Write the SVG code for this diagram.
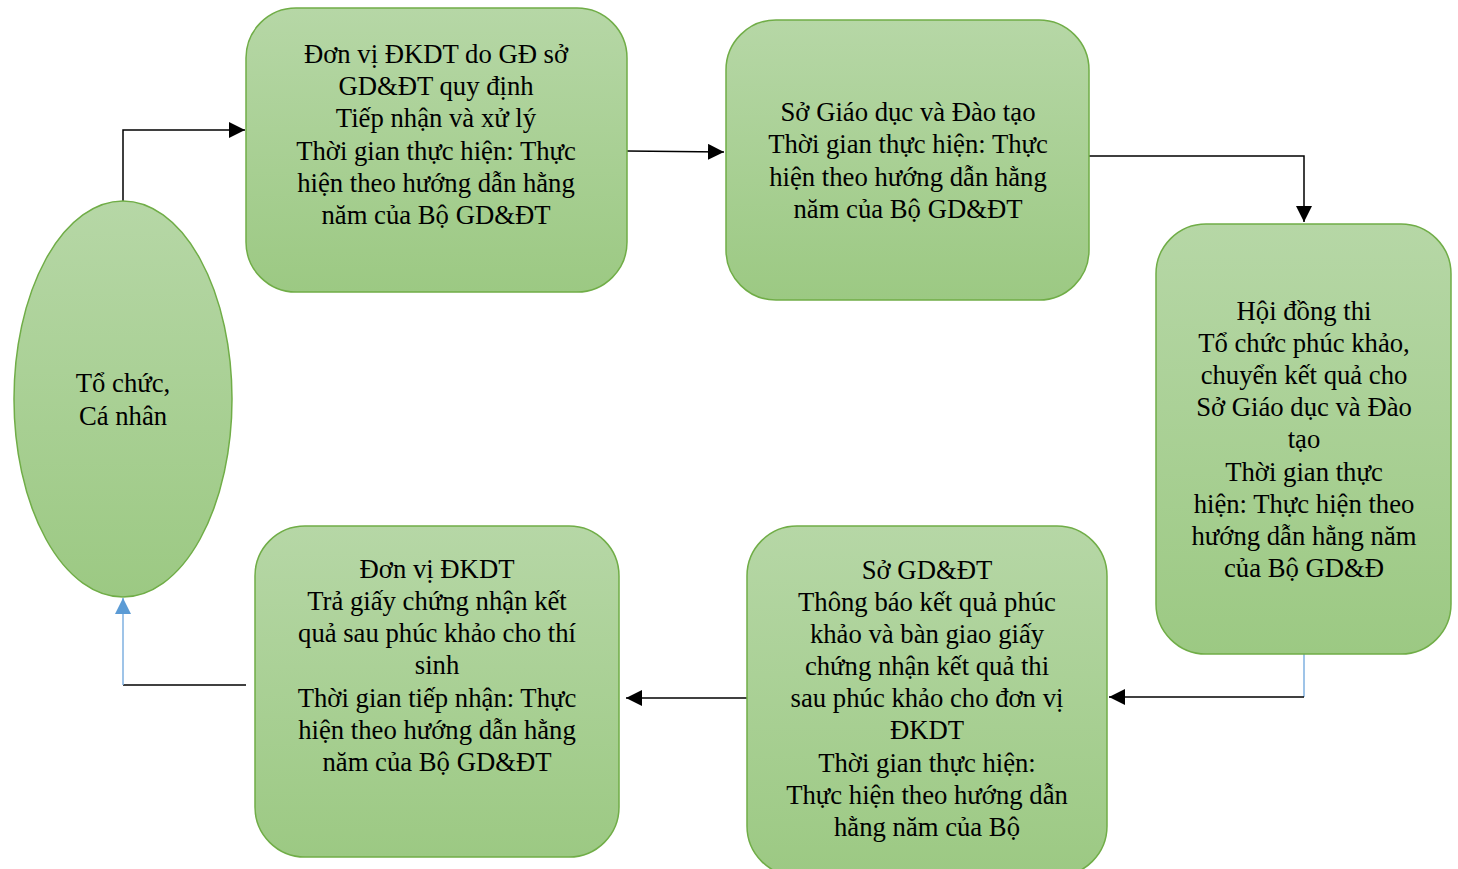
<svg xmlns="http://www.w3.org/2000/svg" width="1458" height="869" viewBox="0 0 1458 869">
<defs>
<linearGradient id="g" x1="0" y1="0" x2="0" y2="1">
<stop offset="0" stop-color="#b6d7a6"/>
<stop offset="1" stop-color="#9cc983"/>
</linearGradient>
<marker id="a" viewBox="0 0 10 10" refX="10" refY="5" markerWidth="16" markerHeight="16" markerUnits="userSpaceOnUse" orient="auto">
<path d="M0,0 L10,5 L0,10 z" fill="#000"/>
</marker>
<marker id="abl" viewBox="0 0 10 10" refX="10" refY="5" markerWidth="16" markerHeight="16" markerUnits="userSpaceOnUse" orient="auto">
<path d="M0,0 L10,5 L0,10 z" fill="#5b9bd5"/>
</marker>
</defs>
<style>
.n{fill:url(#g);stroke:#70ad47;stroke-width:1.5}
.t{font-family:"Liberation Serif","Times New Roman",serif;font-size:26.7px;fill:#000;text-anchor:middle}
.c{fill:none;stroke:#000;stroke-width:1.5}
.b{fill:none;stroke:#7fb0e0;stroke-width:1.5}
</style>
<rect width="1458" height="869" fill="#fff"/>
<g id="connectors">
<path class="c" d="M123,201 V130 H245" marker-end="url(#a)"/>
<path class="c" d="M627,151 L724,152" marker-end="url(#a)"/>
<path class="c" d="M1089,156 H1304 V222" marker-end="url(#a)"/>
<path class="b" d="M1304,654 V697"/>
<path class="c" d="M1304,697 H1109" marker-end="url(#a)"/>
<path class="c" d="M747,698 H626" marker-end="url(#a)"/>
<path class="c" d="M246,685 H123"/>
<path class="b" d="M123,685 V598" marker-end="url(#abl)"/>
</g>
<g id="n0">
<ellipse class="n" cx="123" cy="399" rx="109" ry="198"/>
<text class="t" x="123" y="392">Tổ chức,</text>
<text class="t" x="123" y="425">Cá nhân</text>
</g>
<g id="n1">
<rect class="n" x="246" y="8" width="381" height="284" rx="50"/>
<text class="t" x="436" y="63">Đơn vị ĐKDT do GĐ sở</text>
<text class="t" x="436" y="95">GD&amp;ĐT quy định</text>
<text class="t" x="436" y="127">Tiếp nhận và xử lý</text>
<text class="t" x="436" y="160">Thời gian thực hiện: Thực</text>
<text class="t" x="436" y="192">hiện theo hướng dẫn hằng</text>
<text class="t" x="436" y="224">năm của Bộ GD&amp;ĐT</text>
</g>
<g id="n2">
<rect class="n" x="726" y="20" width="363" height="280" rx="50"/>
<text class="t" x="908" y="121">Sở Giáo dục và Đào tạo</text>
<text class="t" x="908" y="153">Thời gian thực hiện: Thực</text>
<text class="t" x="908" y="186">hiện theo hướng dẫn hằng</text>
<text class="t" x="908" y="218">năm của Bộ GD&amp;ĐT</text>
</g>
<g id="n3">
<rect class="n" x="1156" y="224" width="295" height="430" rx="50"/>
<text class="t" x="1304" y="320">Hội đồng thi</text>
<text class="t" x="1304" y="352">Tổ chức phúc khảo,</text>
<text class="t" x="1304" y="384">chuyển kết quả cho</text>
<text class="t" x="1304" y="416">Sở Giáo dục và Đào</text>
<text class="t" x="1304" y="448">tạo</text>
<text class="t" x="1304" y="481">Thời gian thực</text>
<text class="t" x="1304" y="513">hiện: Thực hiện theo</text>
<text class="t" x="1304" y="545">hướng dẫn hằng năm</text>
<text class="t" x="1304" y="577">của Bộ GD&amp;Đ</text>
</g>
<g id="n4">
<rect class="n" x="747" y="526" width="360" height="350" rx="50"/>
<text class="t" x="927" y="579">Sở GD&amp;ĐT</text>
<text class="t" x="927" y="611">Thông báo kết quả phúc</text>
<text class="t" x="927" y="643">khảo và bàn giao giấy</text>
<text class="t" x="927" y="675">chứng nhận kết quả thi</text>
<text class="t" x="927" y="707">sau phúc khảo cho đơn vị</text>
<text class="t" x="927" y="739">ĐKDT</text>
<text class="t" x="927" y="772">Thời gian thực hiện:</text>
<text class="t" x="927" y="804">Thực hiện theo hướng dẫn</text>
<text class="t" x="927" y="836">hằng năm của Bộ</text>
</g>
<g id="n5">
<rect class="n" x="255" y="526" width="364" height="331" rx="50"/>
<text class="t" x="437" y="578">Đơn vị ĐKDT</text>
<text class="t" x="437" y="610">Trả giấy chứng nhận kết</text>
<text class="t" x="437" y="642">quả sau phúc khảo cho thí</text>
<text class="t" x="437" y="674">sinh</text>
<text class="t" x="437" y="707">Thời gian tiếp nhận: Thực</text>
<text class="t" x="437" y="739">hiện theo hướng dẫn hằng</text>
<text class="t" x="437" y="771">năm của Bộ GD&amp;ĐT</text>
</g>
</svg>
